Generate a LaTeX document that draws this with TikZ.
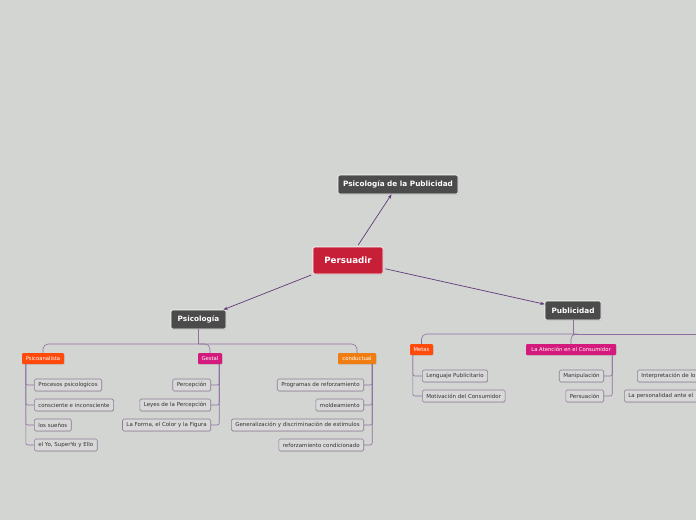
\documentclass[tikz,border=0pt]{standalone}
\usepackage{fontspec}
\setmainfont{DejaVu Sans}
\usetikzlibrary{shadows,arrows.meta}
\definecolor{bg}{HTML}{D3D5D2}
\definecolor{darkbox}{HTML}{4B4B4B}
\definecolor{rootred}{HTML}{C81F38}
\definecolor{orred}{HTML}{FF4A0C}
\definecolor{magen}{HTML}{D41A7C}
\definecolor{orng}{HTML}{F07D12}
\definecolor{leaffill}{HTML}{D8D8D8}
\definecolor{leafborder}{HTML}{8E7E96}
\definecolor{leaftext}{HTML}{333333}
\definecolor{treeline}{HTML}{8F6FA0}
\definecolor{linkcol}{HTML}{603A78}
\tikzset{
 mainbox/.style={draw=white, line width=0.6pt, fill=darkbox, rounded corners=2pt, text=white,
   font=\fontsize{7.3}{8.5}\selectfont\bfseries, minimum height=19pt, inner sep=0pt,
   drop shadow={opacity=0.3, shadow xshift=0.6pt, shadow yshift=-0.8pt}},
 rootbox/.style={mainbox, fill=rootred, font=\fontsize{8.7}{10}\selectfont\bfseries, minimum height=27pt},
 subbox/.style={rounded corners=1pt, text=white, font=\fontsize{5.3}{6}\selectfont,
   minimum height=11pt, inner xsep=3.5pt, inner ysep=0pt,
   drop shadow={opacity=0.25, shadow xshift=0.5pt, shadow yshift=-0.7pt}},
 leafbox/.style={draw=leafborder, line width=0.6pt, fill=leaffill, rounded corners=1.5pt, text=leaftext,
   font=\fontsize{5.5}{6.5}\selectfont, minimum height=12pt, inner xsep=4pt, inner ysep=0pt,
   drop shadow={opacity=0.2, shadow xshift=0.5pt, shadow yshift=-0.7pt}},
 tree/.style={draw=treeline, line width=0.6pt, rounded corners=5pt},
 link/.style={draw=linkcol, line width=0.7pt, -{Stealth[length=4.5pt,width=3.2pt]}, shorten <=2pt}
}
\begin{document}
\begin{tikzpicture}[x=1pt,y=-1pt]
\fill[bg] (0,0) rectangle (696,520);
\useasboundingbox (0,0) rectangle (696,520);
\clip (0,0) rectangle (696,520);

% main nodes
\node[rootbox, minimum width=70pt] (pers) at (348,260.5) {Persuadir};
\node[mainbox, minimum width=120pt] (pdp) at (398,184.5) {Psicología de la Publicidad};
\node[mainbox, minimum width=55pt] (psi) at (198.5,319.5) {Psicología};
\node[mainbox, minimum width=56pt] (pub) at (573,310.5) {Publicidad};

\draw[link] (pers) -- (pdp);
\draw[link] (pers) -- (psi);
\draw[link] (pers) -- (pub);

% Psicologia branch
\node[subbox, fill=orred, minimum width=42pt] (psa) at (43,358.5) {Psicoanalista};
\node[subbox, fill=magen, minimum width=24pt] (ges) at (210,358.5) {Gestal};
\node[subbox, fill=orng, minimum width=38pt] (con) at (357,358.5) {conductual};
\coordinate (bus1) at (198.5,344);
\draw[tree] (psi.south) -- (bus1);
\draw[tree] (bus1) -| (psa.north);
\draw[tree] (bus1) -| (ges.north);
\draw[tree] (bus1) -| (con.north);

% Psicoanalista leaves
\node[leafbox, anchor=west] (a1) at (34,385) {Procesos psicologicos};
\node[leafbox, anchor=west] (a2) at (34,405) {consciente e inconsciente};
\node[leafbox, anchor=west] (a3) at (34,425) {los sueños};
\node[leafbox, anchor=west] (a4) at (34,445) {el Yo, SuperYo y Ello};
\foreach \n in {a1,a2,a3,a4} \draw[tree, rounded corners=2pt] ([xshift=4pt]psa.south west) |- (\n.west);

% Gestal leaves
\node[leafbox, anchor=east] (g1) at (211,385) {Percepción};
\node[leafbox, anchor=east] (g2) at (211,405) {Leyes de la Percepción};
\node[leafbox, anchor=east] (g3) at (211,425) {La Forma, el Color y la Figura};
\foreach \n in {g1,g2,g3} \draw[tree, rounded corners=2pt] ([xshift=-3pt]ges.south east) |- (\n.east);

% conductual leaves
\node[leafbox, anchor=east] (c1) at (364,385) {Programas de reforzamiento};
\node[leafbox, anchor=east] (c2) at (364,405) {moldeamiento};
\node[leafbox, anchor=east] (c3) at (364,425) {Generalización y discriminación de estímulos};
\node[leafbox, anchor=east] (c4) at (364,445) {reforzamiento condicionado};
\foreach \n in {c1,c2,c3,c4} \draw[tree, rounded corners=2pt] ([xshift=-4pt]con.south east) |- (\n.east);

% Publicidad branch
\node[subbox, fill=orred, minimum width=23pt] (met) at (421.5,349.5) {Metas};
\node[subbox, fill=magen, minimum width=90pt] (att) at (571,349.5) {La Atención en el Consumidor};
\coordinate (bus2) at (573,334);
\coordinate (offr) at (720,334);
\draw[tree] (pub.south) -- (bus2);
\draw[tree] (bus2) -| (met.north);
\draw[tree] (bus2) -| (att.north);
\draw[tree] (bus2) -- (offr);

\node[leafbox, anchor=west] (m1) at (422,376) {Lenguaje Publicitario};
\node[leafbox, anchor=west] (m2) at (422,396) {Motivación del Consumidor};
\foreach \n in {m1,m2} \draw[tree, rounded corners=2pt] ([xshift=3pt]met.south west) |- (\n.west);

\node[leafbox, anchor=east] (t1) at (604,376) {Manipulación};
\node[leafbox, anchor=east] (t2) at (604,396) {Persuación};
\foreach \n in {t1,t2} \draw[tree, rounded corners=2pt] ([xshift=-4pt]att.south east) |- (\n.east);

\node[leafbox, anchor=west, text width=100pt, align=left] (r1) at (637,376) {Interpretación de lo};
\node[leafbox, anchor=west, text width=100pt, align=left] (r2) at (624,396) {La personalidad ante el};
\end{tikzpicture}
\end{document}
